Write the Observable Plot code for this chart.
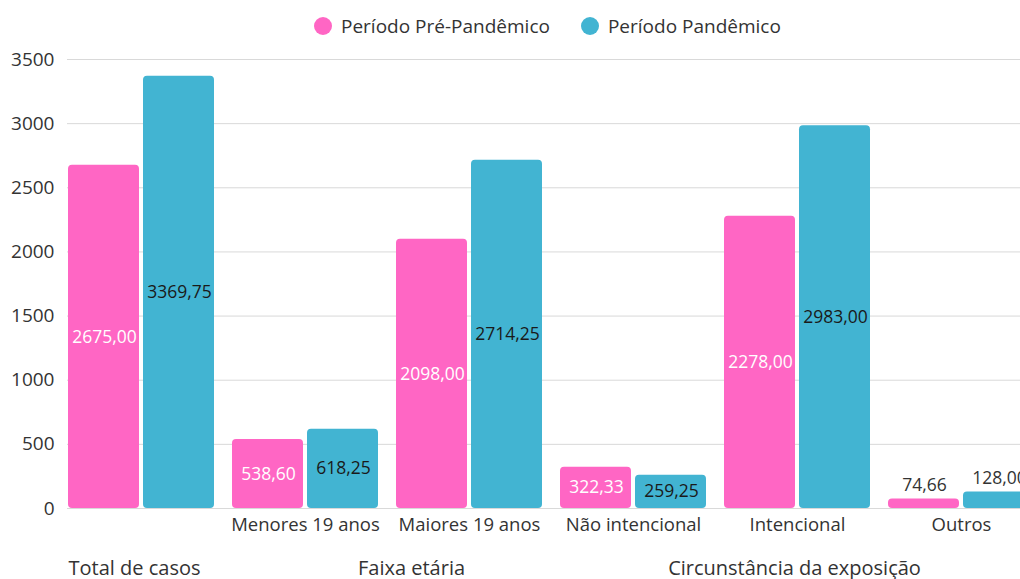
<!DOCTYPE html>
<html>
<head>
<meta charset="utf-8">
<script src="https://cdn.jsdelivr.net/npm/d3@7"></script>
<script src="https://cdn.jsdelivr.net/npm/@observablehq/plot@0.6"></script>
<style>
  html, body { margin: 0; padding: 0; background: #fff; overflow: hidden; }
  body { font-family: "Open Sans", sans-serif; width: 1020px; height: 579px; }
  #legend { height: 28px; padding-top: 12px; display: flex; align-items: center; padding-left: 314px; box-sizing: content-box; font-size: 19px; color: #333; }
  .item { display: flex; align-items: center; margin-right: 31px; }
  .sw { width: 18px; height: 18px; border-radius: 50%; margin-right: 9px; }
  #chart svg { display: block; }
</style>
</head>
<body>
<div id="legend"></div>
<div id="chart"></div>
<script>
const categories = ["Total de casos", "Menores 19 anos", "Maiores 19 anos", "Não intencional", "Intencional", "Outros"];
const tickLabels = ["", "Menores 19 anos", "Maiores 19 anos", "Não intencional", "Intencional", "Outros"];
const series = ["Período Pré-Pandêmico", "Período Pandêmico"];
const prePandemic = [2675.00, 538.60, 2098.00, 322.33, 2278.00, 74.66];
const pandemic = [3369.75, 618.25, 2714.25, 259.25, 2983.00, 128.00];
const colors = ["#FF66C4", "#42B4D2"];
const yTicks = [0, 500, 1000, 1500, 2000, 2500, 3000, 3500];
const groupNames = ["Total de casos", "Faixa etária", "Circunstância da exposição"];
const groupAnchorCats = ["Total de casos", "Maiores 19 anos", "Intencional"];

const fmt = v => v.toFixed(2).replace(".", ",");
const rows = [];
categories.forEach((c, i) => {
  rows.push({cat: c, s: 0, v: prePandemic[i]});
  rows.push({cat: c, s: 1, v: pandemic[i]});
});

// legend
const lg = document.getElementById("legend");
series.forEach((s, i) => {
  const it = document.createElement("div");
  it.className = "item";
  it.innerHTML = `<span class="sw" style="background:${colors[i]}"></span><span>${s}</span>`;
  lg.appendChild(it);
});

const inside = d => d.v >= 200;
const groupText = (i, anchor, dx) => Plot.text([groupNames[i]], {
  x: () => groupAnchorCats[i], text: d => d, frameAnchor: "bottom", dy: 66,
  textAnchor: anchor, dx, fill: "#333", fontSize: 20
});

const chart = Plot.plot({
  width: 1020,
  height: 539,
  marginLeft: 67,
  marginRight: 0,
  marginTop: 19,
  marginBottom: 71,
  style: {fontFamily: "Open Sans", fontSize: "17px", color: "#333", background: "#fff"},
  x: {domain: categories, range: [59, 1043], paddingInner: 18 / 164, paddingOuter: 9 / 164, align: 0.5},
  y: {domain: [0, 3500]},
  marks: [
    Plot.gridY(yTicks, {stroke: "#d9d9d9", strokeOpacity: 1}),
    Plot.axisY(yTicks, {tickSize: 0, tickPadding: 13, fontSize: 19, fill: "#333", label: null, tickFormat: d => String(d)}),
    Plot.axisX({tickSize: 0, tickPadding: 9, fontSize: 18.5, fill: "#333", label: null, tickFormat: d => tickLabels[categories.indexOf(d)]}),
    Plot.barY(rows.filter(d => d.s === 0), {x: "cat", y: "v", fill: colors[0], insetRight: 75, rx: 4}),
    Plot.barY(rows.filter(d => d.s === 1), {x: "cat", y: "v", fill: colors[1], insetLeft: 75, rx: 4}),
    Plot.text(rows.filter(d => inside(d) && d.s === 0), {x: "cat", y: d => d.v / 2, text: d => fmt(d.v), dx: -37, fill: "#fff", fontSize: 17.5}),
    Plot.text(rows.filter(d => inside(d) && d.s === 1), {x: "cat", y: d => d.v / 2, text: d => fmt(d.v), dx: 38, fill: "#1a1a1a", fontSize: 17.5}),
    Plot.text(rows.filter(d => !inside(d) && d.s === 0), {x: "cat", y: "v", text: d => fmt(d.v), dx: -37, dy: -14, fill: "#333", fontSize: 17.5}),
    Plot.text(rows.filter(d => !inside(d) && d.s === 1), {x: "cat", y: "v", text: d => fmt(d.v), dx: 38, dy: -14, fill: "#333", fontSize: 17.5}),
    groupText(0, "start", -73),
    groupText(1, "middle", -58),
    groupText(2, "middle", -3)
  ]
});
document.getElementById("chart").appendChild(chart);
</script>
</body>
</html>
